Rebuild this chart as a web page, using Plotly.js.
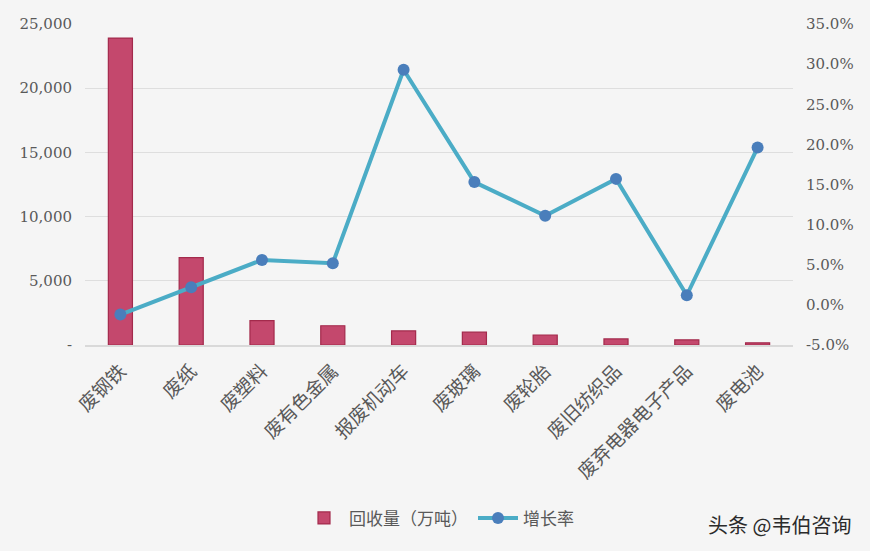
<!DOCTYPE html>
<html>
<head>
<meta charset="utf-8">
<script src="https://cdn.plot.ly/plotly-3.0.1.min.js"></script>
<style>
html,body{margin:0;padding:0;background:#f5f5f5;}
#chart{width:870px;height:551px;outline:2px solid #d9d9d9;outline-offset:-2px;}
</style>
</head>
<body>
<div id="chart"></div>
<script>
const categories = ["废钢铁","废纸","废塑料","废有色金属","报废机动车","废玻璃","废轮胎","废旧纺织品","废弃电器电子产品","废电池"];
const volume = [23900, 6800, 1900, 1500, 1100, 1000, 780, 470, 400, 170];
const growth = [-1.2, 2.2, 5.6, 5.2, 29.3, 15.3, 11.1, 15.7, 1.2, 19.6];
const leftTicks = [0, 5000, 10000, 15000, 20000, 25000];
const leftTickText = ["-", "5,000", "10,000", "15,000", "20,000", "25,000"];
const rightTicks = [-5, 0, 5, 10, 15, 20, 25, 30, 35];
const rightTickText = ["-5.0%", "0.0%", "5.0%", "10.0%", "15.0%", "20.0%", "25.0%", "30.0%", "35.0%"];

const numFont = {family: "DejaVu Serif, Liberation Serif, serif", size: 15, color: "#595959"};
const catFont = {family: "Noto Sans CJK SC, sans-serif", size: 19, color: "#595959"};
const legFont = {family: "Noto Sans CJK SC, sans-serif", size: 17, color: "#595959"};

const traces = [
  {
    type: "bar",
    name: "回收量（万吨）",
    x: categories,
    y: volume,
    width: 0.34,
    marker: {color: "#c4486d", line: {color: "#a32a4c", width: 1.2}},
    yaxis: "y"
  },
  {
    type: "scatter",
    mode: "lines+markers",
    name: "增长率",
    x: categories,
    y: growth,
    line: {color: "#4bacc6", width: 4},
    marker: {color: "#4a7ebb", size: 12},
    yaxis: "y2"
  }
];

const layout = {
  width: 870,
  height: 551,
  paper_bgcolor: "#f5f5f5",
  plot_bgcolor: "#f5f5f5",
  margin: {l: 85, r: 77, t: 24, b: 206, autoexpand: false},
  showlegend: true,
  legend: {
    orientation: "h",
    x: 0.5, xanchor: "center",
    y: -0.54, yanchor: "middle",
    font: legFont,
    itemwidth: 40,
    bgcolor: "rgba(0,0,0,0)"
  },
  xaxis: {
    type: "category",
    range: [-0.5, 9.5],
    tickangle: -45,
    tickfont: catFont,
    showgrid: false,
    showline: true,
    linecolor: "#d9d9d9",
    linewidth: 1.5,
    ticks: "",
    automargin: false,
    ticklabelstandoff: 6
  },
  yaxis: {
    range: [0, 25000],
    tickvals: leftTicks,
    ticktext: leftTickText,
    tickfont: numFont,
    gridcolor: "#dedede",
    gridwidth: 1.2,
    zeroline: false,
    showline: false,
    ticks: "",
    automargin: false,
    ticklabelstandoff: 12
  },
  yaxis2: {
    overlaying: "y",
    side: "right",
    range: [-5, 35],
    tickvals: rightTicks,
    ticktext: rightTickText,
    tickfont: numFont,
    showgrid: false,
    zeroline: false,
    showline: false,
    ticks: "",
    automargin: false,
    ticklabelstandoff: 12
  },
  annotations: [
    {
      text: "头条 @韦伯咨询",
      xref: "paper", yref: "paper",
      x: 1.085, y: -0.56,
      xanchor: "right", yanchor: "middle",
      showarrow: false,
      font: {family: "Noto Sans CJK SC, sans-serif", size: 20, color: "#2b2b2b"}
    }
  ]
};

Plotly.newPlot("chart", traces, layout, {displayModeBar: false, staticPlot: true});
</script>
</body>
</html>
